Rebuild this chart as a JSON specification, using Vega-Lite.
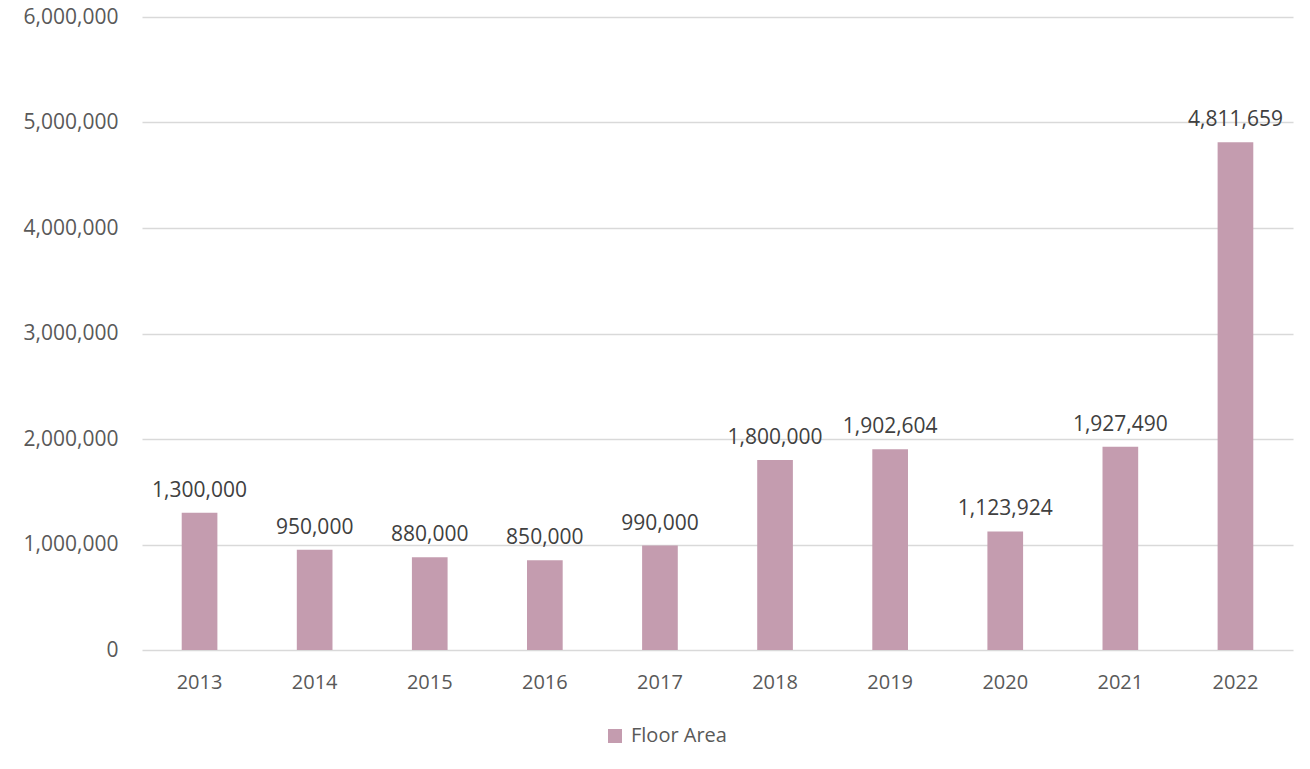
{
  "$schema": "https://vega.github.io/schema/vega-lite/v6.json",
  "autosize": "none",
  "width": 1151,
  "height": 633,
  "padding": {"left": 142, "top": 17, "right": 17, "bottom": 119},
  "background": "white",
  "config": {
    "view": {"stroke": null},
    "font": "Open Sans"
  },
  "data": {
    "values": [
      {"year": "2013", "series": "Floor Area", "value": 1300000},
      {"year": "2014", "series": "Floor Area", "value": 950000},
      {"year": "2015", "series": "Floor Area", "value": 880000},
      {"year": "2016", "series": "Floor Area", "value": 850000},
      {"year": "2017", "series": "Floor Area", "value": 990000},
      {"year": "2018", "series": "Floor Area", "value": 1800000},
      {"year": "2019", "series": "Floor Area", "value": 1902604},
      {"year": "2020", "series": "Floor Area", "value": 1123924},
      {"year": "2021", "series": "Floor Area", "value": 1927490},
      {"year": "2022", "series": "Floor Area", "value": 4811659}
    ]
  },
  "encoding": {
    "x": {
      "field": "year",
      "type": "nominal",
      "scale": {"paddingInner": 0.69, "paddingOuter": 0.345},
      "axis": {
        "title": null,
        "labelAngle": 0,
        "labelFont": "Open Sans",
        "labelFontSize": 20,
        "labelColor": "#595959",
        "labelPadding": 22,
        "ticks": false,
        "domain": false
      }
    },
    "y": {
      "field": "value",
      "type": "quantitative",
      "scale": {"domain": [0, 6000000], "nice": false},
      "axis": {
        "title": null,
        "values": [0, 1000000, 2000000, 3000000, 4000000, 5000000, 6000000],
        "format": ",d",
        "labelFont": "Open Sans",
        "labelFontSize": 21,
        "labelColor": "#595959",
        "labelPadding": 24,
        "ticks": false,
        "domain": false,
        "grid": true,
        "gridColor": "#d9d9d9",
        "gridWidth": 1.5
      }
    }
  },
  "layer": [
    {
      "mark": {"type": "bar"},
      "encoding": {
        "color": {
          "field": "series",
          "type": "nominal",
          "scale": {"range": ["#c49caf"]},
          "legend": {
            "title": null,
            "orient": "none",
            "legendX": 463,
            "legendY": 709,
            "symbolType": "square",
            "symbolSize": 196,
            "symbolStrokeWidth": 0,
            "labelFont": "Open Sans",
            "labelFontSize": 20,
            "labelColor": "#595959",
            "labelOffset": 6
          }
        }
      }
    },
    {
      "mark": {"type": "text", "baseline": "alphabetic", "dy": -16, "font": "Open Sans", "fontSize": 21, "color": "#404040"},
      "encoding": {
        "text": {"field": "value", "type": "quantitative", "format": ",d"}
      }
    }
  ]
}
